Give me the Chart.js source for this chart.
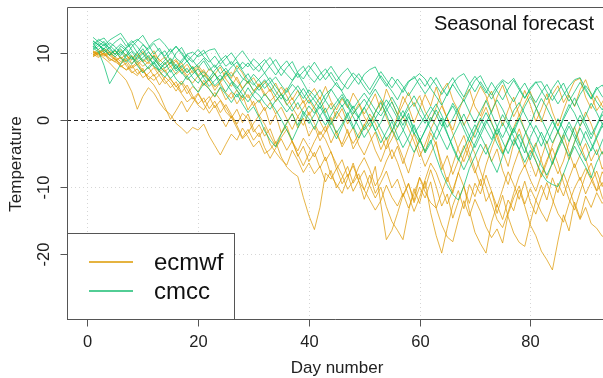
<!DOCTYPE html>
<html>
<head>
<meta charset="utf-8">
<script src="https://cdn.jsdelivr.net/npm/chart.js@4.4.1/dist/chart.umd.min.js"></script>
<style>
  html, body { margin: 0; padding: 0; background: #fff; overflow: hidden; }
  #wrap { width: 603px; height: 378px; position: relative; }
</style>
</head>
<body>
<div id="wrap"><canvas id="forecastChart"></canvas></div>
<script>
// day numbers on the x axis
const days = [1,2,3,4,5,6,7,8,9,10,11,12,13,14,15,16,17,18,19,20,
  21,22,23,24,25,26,27,28,29,30,31,32,33,34,35,36,37,38,39,40,
  41,42,43,44,45,46,47,48,49,50,51,52,53,54,55,56,57,58,59,60,
  61,62,63,64,65,66,67,68,69,70,71,72,73,74,75,76,77,78,79,80,
  81,82,83,84,85,86,87,88,89,90,91,92,93,94];
const xTicks = [0, 20, 40, 60, 80];
const yTicks = [-20, -10, 0, 10];
const seriesNames = ['ecmwf', 'cmcc'];

// ecmwf members
const ecmwf1 = [10.0,9.8,9.2,8.5,7.6,6.8,5.9,4.2,1.6,3.5,
  4.8,4.0,2.6,1.5,0.8,-0.5,-1.2,-2.0,-1.1,-1.5,
  -0.6,-2.4,-3.8,-5.2,-3.6,-2.1,-3.0,-1.2,-2.5,-4.0,
  -3.1,-5.0,-4.4,-3.2,-5.5,-7.0,-7.8,-8.4,-11.5,-14.2,
  -16.3,-13.0,-7.9,-8.8,-7.2,-9.5,-8.1,-10.6,-9.0,-11.8,
  -9.6,-6.9,-12.5,-17.8,-16.4,-13.9,-11.2,-9.4,-12.0,-8.5,
  -10.2,-7.4,-9.9,-12.8,-11.0,-14.6,-12.1,-9.8,-13.5,-16.7,
  -18.4,-19.8,-15.2,-12.6,-14.8,-11.9,-13.5,-10.4,-12.8,-15.6,
  -17.2,-19.5,-20.8,-22.3,-18.0,-14.1,-16.5,-12.2,-14.6,-11.3,
  -13.0,-10.8,-12.4,-11.5];
const ecmwf2 = [9.6,10.2,9.8,9.1,8.7,8.0,7.5,8.2,6.9,7.4,
  6.1,5.2,3.8,1.9,0.1,1.4,2.8,1.2,2.5,3.9,
  2.4,1.0,2.2,0.5,-1.0,0.6,-0.8,-2.6,-1.4,-3.0,
  -1.9,-4.1,-5.7,-4.2,-2.8,-4.5,-3.1,-5.4,-3.9,-6.2,
  -4.8,-7.1,-5.5,-8.3,-9.6,-10.9,-8.7,-6.4,-8.9,-7.5,
  -9.8,-11.6,-10.0,-12.9,-15.1,-16.4,-17.8,-13.6,-10.2,-12.4,
  -9.1,-13.8,-17.2,-19.8,-16.1,-12.7,-10.5,-13.2,-9.6,-11.4,
  -8.8,-12.1,-10.6,-13.9,-11.2,-14.4,-16.8,-18.2,-18.8,-15.3,
  -12.0,-9.7,-11.9,-8.6,-10.8,-7.9,-10.1,-12.7,-14.8,-13.0,
  -15.4,-16.1,-17.3,-17.0];
const ecmwf3 = [9.4,9.9,10.4,9.6,8.9,9.3,8.1,7.0,7.6,6.3,
  6.9,7.8,6.6,5.4,6.2,4.9,5.8,4.6,3.1,4.0,
  2.6,3.5,1.8,2.9,1.2,0.3,1.6,-0.4,0.9,-1.3,
  -2.5,-1.1,-3.6,-4.8,-5.9,-6.7,-4.5,-6.0,-7.8,-6.4,
  -8.0,-6.9,-9.2,-7.5,-10.1,-8.6,-6.9,-9.4,-8.0,-10.4,
  -11.9,-13.4,-12.0,-9.7,-11.5,-12.8,-10.9,-13.1,-11.0,-8.6,
  -10.7,-12.3,-13.1,-15.6,-17.4,-18.1,-14.9,-12.0,-14.3,-11.8,
  -13.6,-15.9,-17.5,-16.2,-18.3,-14.0,-11.6,-9.8,-12.5,-10.2,
  -11.9,-13.7,-15.1,-12.6,-9.4,-11.3,-8.7,-6.5,-9.0,-7.2,
  -8.9,-10.6,-9.3,-11.0];
const ecmwf4 = [9.9,10.5,9.6,10.1,9.0,8.4,8.9,7.7,8.3,7.1,
  7.9,6.5,7.3,5.9,4.8,5.7,4.1,5.2,3.6,2.4,
  3.3,1.7,2.8,1.1,2.3,0.8,-0.6,1.0,0.2,-1.8,
  -0.7,-2.4,-1.3,-3.5,-2.0,-0.9,-3.2,-4.6,-2.7,-4.1,
  -5.5,-3.8,-6.1,-4.7,-7.3,-5.9,-8.4,-6.8,-9.1,-10.4,
  -8.2,-10.9,-9.3,-7.6,-10.1,-8.8,-11.4,-9.5,-12.3,-10.0,
  -11.6,-9.2,-13.1,-10.8,-8.5,-10.9,-7.8,-9.9,-12.4,-9.4,
  -11.0,-8.2,-10.6,-12.9,-10.3,-7.7,-9.6,-11.8,-9.1,-12.2,
  -14.0,-11.5,-9.3,-11.8,-13.9,-15.2,-12.4,-10.1,-8.5,-11.0,
  -9.2,-7.6,-9.9,-8.1];
const ecmwf5 = [10.3,9.7,10.0,9.2,8.6,9.4,8.8,9.5,8.2,9.0,
  8.4,9.6,8.1,7.2,8.0,6.8,7.5,6.2,5.5,6.6,
  5.1,6.0,4.4,5.6,4.0,3.2,4.5,2.9,3.8,2.1,
  3.0,1.4,2.6,0.9,1.9,0.2,-1.4,0.5,-0.8,1.2,
  -0.5,-2.2,-0.9,-3.4,-1.6,-4.0,-2.5,-1.1,-3.7,-5.2,
  -3.3,-1.8,-4.4,-2.6,-5.8,-3.9,-6.5,-4.1,-2.0,-4.6,
  -6.9,-5.0,-3.2,-7.4,-5.3,-8.1,-6.0,-3.8,-5.7,-7.9,
  -5.5,-3.6,-6.2,-4.3,-7.5,-9.6,-6.8,-4.5,-7.0,-5.1,
  -3.4,-6.0,-8.7,-6.3,-4.0,-2.2,-4.8,-7.1,-5.2,-3.5,
  -6.1,-4.4,-7.3,-5.6];
const ecmwf6 = [9.7,10.1,10.6,10.2,9.8,10.4,9.6,8.9,9.9,8.6,
  9.3,10.3,8.7,9.4,7.9,8.8,7.4,8.3,7.0,7.8,
  6.4,7.6,6.9,5.7,7.3,6.2,8.1,7.0,5.4,6.3,
  4.9,5.8,4.2,5.5,3.7,4.8,3.0,4.4,2.5,3.6,
  4.7,3.1,5.0,2.8,1.5,3.2,1.8,4.0,2.6,0.9,
  2.2,3.9,1.4,4.6,2.7,0.8,3.5,1.9,-0.4,1.6,
  3.8,2.1,4.9,2.4,0.3,-1.5,1.2,3.3,4.6,2.0,
  0.6,2.9,4.3,1.8,-0.9,1.5,3.4,0.7,2.5,4.2,
  1.9,-0.3,2.2,3.8,5.1,2.6,4.0,5.8,6.2,3.4,
  1.7,3.6,2.1,0.8];
const ecmwf7 = [10.1,9.5,9.9,8.8,9.3,7.9,8.5,7.2,6.6,7.7,
  6.0,6.8,5.2,6.4,5.6,4.3,5.5,3.9,5.0,4.2,
  5.9,4.6,3.4,4.8,3.0,4.1,2.4,3.7,1.5,2.8,
  0.6,1.9,-0.7,0.8,-1.9,-0.4,1.0,-1.2,0.3,-2.4,
  -0.9,-3.1,-1.7,0.4,-2.2,-3.6,-1.4,-4.3,-2.8,-0.6,
  -2.1,-4.5,-6.2,-3.9,-1.5,-3.4,-5.6,-7.9,-5.0,-2.7,
  -4.8,-1.9,-3.7,-6.4,-9.2,-6.6,-4.1,-2.3,-4.9,-7.3,
  -9.8,-6.7,-4.2,-2.0,-4.6,-6.9,-3.5,-1.3,-3.9,-6.2,
  -8.4,-5.7,-3.1,-5.9,-8.0,-6.1,-3.3,-1.0,-3.6,-5.8,
  -8.3,-10.5,-7.7,-9.4];
const ecmwf8 = [9.8,9.3,10.0,9.7,10.3,9.1,9.8,8.4,9.2,10.2,
  8.9,9.7,9.0,8.2,9.1,7.6,8.5,7.1,8.0,6.7,
  7.5,5.9,6.8,7.9,6.1,5.0,6.4,4.7,5.8,4.3,
  5.2,3.6,4.6,2.7,3.9,2.2,3.3,1.6,2.9,0.7,
  2.0,3.4,1.1,2.5,0.2,1.7,-0.6,0.9,2.4,0.5,
  -1.0,1.2,2.9,0.4,-1.8,0.6,2.3,4.1,2.0,3.6,
  1.3,-0.2,1.9,4.3,5.5,3.0,1.4,-0.8,0.9,3.2,
  5.0,3.6,1.1,3.4,5.2,2.8,0.5,2.1,4.4,2.3,
  -0.2,1.6,3.9,1.2,-0.9,1.5,3.7,2.0,4.5,6.0,
  3.8,1.4,2.6,4.1];
const ecmwf9 = [10.2,9.9,9.5,9.8,9.0,8.2,7.4,7.9,8.6,7.3,
  6.5,5.9,6.7,7.5,6.0,5.1,3.9,2.7,3.4,2.2,
  1.5,2.9,4.1,3.0,1.8,0.4,-1.2,-2.8,-1.9,-0.5,
  0.7,-0.6,-2.3,-3.9,-2.6,-1.4,-3.3,-5.1,-6.8,-5.0,
  -3.2,-1.7,-2.9,-4.8,-6.6,-8.2,-10.3,-9.1,-7.0,-5.6,
  -7.4,-9.8,-8.3,-6.1,-4.4,-6.3,-8.7,-11.2,-13.6,-11.5,
  -8.9,-6.4,-7.8,-10.1,-12.5,-10.4,-7.9,-5.2,-3.1,-5.0,
  -7.6,-9.9,-12.3,-14.8,-16.0,-13.7,-10.9,-8.3,-6.7,-8.9,
  -10.6,-8.1,-5.9,-4.2,-6.5,-9.3,-11.8,-13.4,-10.7,-8.2,
  -6.4,-8.8,-11.5,-13.1];
const ecmwf10 = [9.5,9.9,10.3,10.0,9.4,8.7,9.1,9.6,8.8,8.0,
  8.6,7.9,7.2,7.8,8.5,9.0,7.7,6.6,7.3,8.1,
  7.0,5.8,4.9,5.6,6.5,7.1,5.9,4.6,3.3,4.2,
  5.4,4.0,2.8,3.7,4.9,3.6,1.9,0.5,1.8,3.0,
  1.6,-0.2,-1.8,-0.4,1.3,0.1,-1.9,-3.5,-2.1,-0.8,
  0.9,-0.5,-2.4,-4.3,-2.8,-1.0,0.6,-1.3,-3.2,-5.5,
  -3.6,-1.4,0.4,2.1,0.2,-2.0,-4.4,-6.2,-4.0,-1.8,
  0.1,1.9,-0.3,-2.6,-4.9,-3.0,-1.1,0.8,-1.5,-3.8,
  -6.0,-8.5,-6.3,-3.7,-1.6,-3.4,-5.9,-3.2,-0.9,1.2,
  -0.6,-2.9,-5.1,-3.0];

// cmcc members
const cmcc1 = [11.5,10.2,8.1,5.4,6.8,8.3,9.6,10.9,11.8,12.6,
  11.2,9.8,10.7,9.1,8.4,9.9,10.8,9.3,8.6,9.7,
  10.4,9.0,7.8,8.9,9.6,8.2,9.4,10.3,9.1,8.0,
  7.2,8.5,9.3,7.9,6.6,7.8,8.7,7.0,6.1,7.4,
  8.6,7.3,6.0,7.1,5.8,6.9,7.7,6.4,5.3,6.8,
  7.5,7.9,6.2,5.0,6.4,5.3,4.1,5.6,6.5,5.2,
  3.9,5.1,6.3,4.8,3.6,5.4,6.4,6.9,5.5,4.2,
  5.7,4.4,3.1,4.6,5.8,4.0,2.7,4.3,5.5,3.9,
  2.6,4.1,5.3,3.8,2.4,3.7,5.0,6.0,6.3,4.7,
  3.2,4.9,3.5,2.8];
const cmcc2 = [12.3,11.6,11.0,11.9,12.4,12.9,11.7,10.4,9.5,10.6,
  9.2,8.4,9.7,10.3,8.8,7.6,8.9,9.8,10.1,9.4,
  9.9,10.4,10.6,9.2,8.0,8.7,7.5,8.6,7.9,9.1,
  8.3,7.0,8.1,9.0,7.7,6.8,5.9,7.2,8.0,6.5,
  5.6,6.8,7.6,6.3,5.1,4.4,5.9,7.0,6.2,4.9,
  3.8,5.2,6.6,5.4,4.3,3.0,4.6,5.8,6.2,6.9,
  6.1,4.7,3.5,2.2,3.9,5.3,4.0,2.8,4.4,5.9,
  6.6,5.0,3.7,5.1,6.0,5.4,6.2,4.8,3.3,4.5,
  5.6,5.7,4.2,2.9,4.3,5.5,3.6,2.1,3.8,5.1,
  4.0,2.7,1.5,3.0];
const cmcc3 = [11.0,10.5,11.3,10.1,9.4,10.2,9.1,8.3,9.5,8.7,
  7.6,8.5,7.2,6.4,7.5,6.1,5.3,6.6,5.2,4.1,
  5.4,4.6,3.5,4.9,3.8,2.6,3.9,2.4,1.1,2.0,
  0.4,-1.6,-3.0,-4.0,-2.1,-0.5,0.9,-0.8,1.3,0.2,
  -1.4,0.6,1.8,-0.3,-1.9,-0.6,1.1,-0.9,-2.7,-1.2,
  0.3,-1.5,-3.4,-1.8,-0.2,-2.3,-4.1,-2.6,-0.7,-2.9,
  -4.6,-3.0,-5.5,-7.8,-9.6,-11.1,-11.9,-9.8,-7.2,-5.4,
  -3.6,-5.1,-3.3,-1.4,-3.2,-5.0,-2.9,-4.4,-6.3,-4.5,
  -6.1,-7.9,-9.1,-9.6,-9.9,-8.0,-5.8,-3.9,-5.5,-7.0,
  -8.6,-6.3,-4.7,-6.5];
const cmcc4 = [10.6,11.4,10.0,10.8,9.7,11.0,10.3,9.0,10.1,8.8,
  9.6,8.0,7.4,8.6,7.1,8.3,6.9,7.7,6.3,5.5,
  6.7,5.8,6.9,5.1,4.2,5.6,4.4,3.3,4.8,3.5,
  2.6,3.9,2.8,1.5,0.1,-1.5,-3.0,-1.2,0.7,2.1,
  1.0,2.5,0.8,-0.7,0.9,2.2,0.4,-1.3,0.6,1.9,
  0.2,-1.6,-0.4,1.4,2.7,0.9,-0.8,1.0,-1.9,-3.3,
  -1.5,0.4,-0.9,-2.7,-4.4,-2.5,-0.8,0.9,-1.0,-2.6,
  -0.6,1.1,-0.5,-2.2,-0.4,-2.0,-3.8,-2.1,-4.0,-5.9,
  -3.7,-1.8,-3.5,-1.6,0.2,-1.4,-3.2,-1.1,0.7,-1.0,
  -2.8,-0.9,0.8,-0.5];
const cmcc5 = [11.8,11.1,10.6,11.5,10.9,9.9,10.7,11.3,10.0,11.2,
  10.5,11.4,10.2,9.5,10.6,9.2,8.5,9.7,8.9,7.8,
  8.8,7.4,8.2,6.9,7.7,6.5,7.4,6.2,5.6,6.8,
  5.9,4.7,5.6,6.4,5.2,4.1,5.3,4.4,3.2,4.5,
  3.6,2.4,3.8,4.6,3.3,2.0,3.1,1.7,2.9,4.0,
  2.8,1.5,0.6,2.0,3.4,1.9,0.3,1.6,2.6,0.8,
  -0.5,1.1,2.4,0.7,-1.1,0.2,1.8,3.0,1.2,-0.4,
  1.3,2.9,1.0,-1.0,-2.6,-0.8,1.4,2.6,0.9,-0.7,
  1.5,3.2,1.8,0.1,-1.7,0.4,2.3,1.0,-0.9,0.6,
  2.5,1.1,-0.6,0.9];
const cmcc6 = [10.8,10.0,10.7,9.6,10.4,9.2,8.6,9.4,8.1,7.0,
  7.9,8.7,7.5,8.4,9.2,8.0,7.1,6.0,6.8,7.6,
  6.3,5.0,5.9,6.7,5.5,4.3,3.4,4.6,5.7,4.4,
  3.7,2.5,1.6,2.9,3.8,2.4,1.3,2.6,1.0,-0.5,
  0.8,2.0,0.5,-1.2,-2.8,-1.0,0.7,2.1,0.4,-1.5,
  -0.4,1.2,2.6,0.9,-1.3,-3.0,-1.6,0.5,-1.2,-2.8,
  -4.9,-3.4,-1.5,0.3,-1.9,-4.2,-6.0,-4.3,-2.4,-0.7,
  -2.3,-4.0,-6.1,-7.8,-5.4,-3.1,-1.2,-3.0,-4.9,-2.6,
  -0.8,-2.4,-4.5,-6.6,-4.2,-2.1,-0.3,-2.0,-3.8,-1.7,
  -3.5,-5.2,-3.1,-1.4];
const cmcc7 = [11.2,12.0,11.4,10.7,11.6,12.2,11.0,11.8,10.9,9.8,
  10.8,11.7,12.1,11.2,10.1,11.0,9.8,8.7,9.6,10.5,
  9.4,8.6,9.5,8.3,9.2,10.0,8.8,7.6,8.5,7.4,
  8.2,9.0,7.8,6.7,7.9,8.8,7.5,6.3,7.2,8.1,
  7.0,5.9,6.9,8.0,6.7,5.5,4.6,5.8,6.9,5.7,
  4.5,5.9,7.2,6.0,4.8,6.1,5.0,3.6,4.9,6.2,
  5.0,6.4,5.2,3.8,5.1,6.3,4.7,3.4,5.3,6.5,
  5.3,4.0,5.6,4.3,3.0,4.6,5.9,4.5,3.2,4.8,
  5.7,4.4,3.0,4.7,5.9,4.3,2.8,4.2,5.6,4.4,
  3.1,4.6,5.2,3.9];
const cmcc8 = [10.4,11.0,11.7,10.5,9.8,10.6,9.5,10.2,9.0,9.9,
  8.7,9.5,8.4,7.7,8.6,7.3,8.1,7.0,7.9,6.5,
  7.2,6.4,5.1,6.0,7.0,5.8,4.7,5.9,6.9,5.5,
  4.4,5.5,6.3,5.0,3.9,2.8,4.0,5.1,3.8,2.5,
  3.4,4.5,2.9,1.6,2.7,3.8,2.2,0.9,2.0,3.1,
  1.8,0.3,-1.3,-2.9,-1.6,-0.1,1.4,-0.3,-2.1,-0.8,
  0.6,2.0,0.8,-0.9,0.7,2.1,0.5,-1.4,-3.2,-1.5,
  0.3,-1.4,-2.9,-1.1,0.8,-0.7,-2.5,-4.4,-2.2,-0.5,
  -2.1,-3.9,-1.9,-0.2,-1.8,-3.6,-5.4,-3.3,-1.2,-2.9,
  -4.6,-2.7,-0.9,-2.4];
const cmcc9 = [10.9,11.8,12.2,11.1,10.3,9.6,10.8,11.5,12.0,11.3,
  10.2,9.0,8.1,8.9,10.0,10.9,10.1,8.8,7.6,8.3,
  9.2,8.0,6.7,5.9,6.8,7.9,8.6,7.3,6.0,5.2,
  6.1,7.0,5.7,4.3,3.1,4.4,5.8,6.9,5.5,4.0,
  2.9,1.7,3.0,4.5,5.6,4.2,2.8,1.4,0.3,1.8,
  3.3,4.6,3.2,1.7,0.2,-1.1,0.5,2.2,3.6,2.1,
  0.4,-1.3,-2.9,-1.2,0.7,2.5,1.1,-0.6,-2.4,-4.1,
  -2.3,-0.5,1.3,3.0,1.6,-0.2,-1.9,0.1,2.0,3.5,
  1.9,0.2,-1.6,-3.4,-1.8,0.1,1.7,3.3,1.5,-0.4,
  -2.2,-0.7,1.1,2.6];
const cmcc10 = [11.7,11.2,10.4,9.7,10.5,11.3,10.6,9.4,8.6,9.3,
  10.1,9.2,8.0,7.1,6.2,7.0,7.9,8.8,7.5,6.4,
  5.3,6.2,7.4,8.2,7.1,5.9,5.0,3.8,2.7,3.9,
  5.0,6.0,4.9,3.6,2.4,1.2,2.3,3.5,4.7,3.3,
  2.0,0.6,-0.8,0.7,2.1,3.4,2.0,0.5,-1.0,-2.6,
  -1.3,0.2,1.6,3.0,1.8,0.3,-1.4,-3.1,-4.8,-3.2,
  -1.6,-0.1,1.5,-0.2,-2.1,-3.9,-5.7,-7.4,-5.6,-3.5,
  -1.7,0.0,-1.6,-3.5,-5.1,-3.3,-1.4,0.3,-1.5,-3.2,
  -5.0,-6.8,-8.2,-6.4,-4.5,-2.7,-0.9,-2.6,-4.4,-6.1,
  -4.3,-2.4,-0.6,-2.2];

const ecmwfRuns = [ecmwf1, ecmwf2, ecmwf3, ecmwf4, ecmwf5, ecmwf6, ecmwf7, ecmwf8, ecmwf9, ecmwf10];
const cmccRuns = [cmcc1, cmcc2, cmcc3, cmcc4, cmcc5, cmcc6, cmcc7, cmcc8, cmcc9, cmcc10];

const lineColor = { ecmwf: 'rgba(222,152,0,0.72)', cmcc: 'rgba(0,188,108,0.72)' };
const keyColor = { ecmwf: '#DC9A00', cmcc: '#18BC72' };
const FONT = '"Liberation Sans", Arial, Helvetica, sans-serif';

function toPoints(run) {
  return days.map((d, i) => ({ x: d, y: run[i] }));
}

const datasets = [];
ecmwfRuns.forEach((run) => {
  datasets.push({ label: 'ecmwf', data: toPoints(run), borderColor: lineColor.ecmwf, borderWidth: 1, pointRadius: 0, tension: 0, order: 1 });
});
cmccRuns.forEach((run) => {
  datasets.push({ label: 'cmcc', data: toPoints(run), borderColor: lineColor.cmcc, borderWidth: 1, pointRadius: 0, tension: 0, order: 0 });
});

// draws the base-R style frame, ticks, labels and legend
const rStyle = {
  id: 'rStyle',
  beforeDatasetsDraw(chart) {
    const { ctx, chartArea: a, scales: { x, y } } = chart;
    ctx.save();
    ctx.strokeStyle = '#d6d6d6';
    ctx.lineWidth = 1;
    ctx.setLineDash([1, 3]);
    xTicks.forEach(t => {
      const px = Math.round(x.getPixelForValue(t)) + 0.5;
      ctx.beginPath(); ctx.moveTo(px, a.top); ctx.lineTo(px, a.bottom); ctx.stroke();
    });
    yTicks.forEach(t => {
      if (t === 0) return;
      const py = Math.round(y.getPixelForValue(t)) + 0.5;
      ctx.beginPath(); ctx.moveTo(a.left, py); ctx.lineTo(a.right, py); ctx.stroke();
    });
    ctx.restore();
  },
  afterDatasetsDraw(chart) {
    const { ctx, chartArea: a, scales: { x, y } } = chart;
    ctx.save();

    // zero line
    const y0 = Math.round(y.getPixelForValue(0)) + 0.5;
    ctx.strokeStyle = '#222';
    ctx.lineWidth = 1;
    ctx.setLineDash([4, 3]);
    ctx.beginPath(); ctx.moveTo(a.left, y0); ctx.lineTo(a.right, y0); ctx.stroke();
    ctx.setLineDash([]);

    // legend box
    const lx = a.left + 0.5, ly = 233.5, lw = 167, lh = a.bottom - 233;
    ctx.fillStyle = '#fff';
    ctx.fillRect(lx, ly, lw, lh);
    ctx.strokeStyle = '#555';
    ctx.strokeRect(lx, ly, lw, lh);
    ctx.font = '24px ' + FONT;
    ctx.textBaseline = 'middle';
    ctx.textAlign = 'left';
    seriesNames.forEach((name, i) => {
      const ky = 262 + i * 29;
      ctx.strokeStyle = keyColor[name];
      ctx.lineWidth = 1.5;
      ctx.beginPath(); ctx.moveTo(89, ky); ctx.lineTo(133, ky); ctx.stroke();
      ctx.fillStyle = '#111';
      ctx.fillText(name, 154, ky + 1);
    });

    // frame (right side lies outside the window)
    ctx.strokeStyle = '#555';
    ctx.lineWidth = 1;
    const L = a.left + 0.5, T = a.top + 0.5, B = a.bottom + 0.5;
    ctx.beginPath();
    ctx.moveTo(a.right + 5, T); ctx.lineTo(L, T); ctx.lineTo(L, B); ctx.lineTo(a.right + 5, B);
    ctx.stroke();

    // ticks and tick labels
    ctx.fillStyle = '#222';
    ctx.font = '16.5px ' + FONT;
    xTicks.forEach(t => {
      const px = Math.round(x.getPixelForValue(t)) + 0.5;
      ctx.beginPath(); ctx.moveTo(px, B); ctx.lineTo(px, B + 7); ctx.stroke();
      ctx.textAlign = 'center';
      ctx.fillText(String(t), px, 342);
    });
    yTicks.forEach(t => {
      const py = Math.round(y.getPixelForValue(t)) + 0.5;
      ctx.beginPath(); ctx.moveTo(L, py); ctx.lineTo(L - 7, py); ctx.stroke();
      ctx.save();
      ctx.translate(44, py);
      ctx.rotate(-Math.PI / 2);
      ctx.textAlign = 'center';
      ctx.fillText(String(t), 0, 0);
      ctx.restore();
    });

    // axis titles
    ctx.font = '17px ' + FONT;
    ctx.textAlign = 'center';
    ctx.fillText('Day number', 337, 368);
    ctx.save();
    ctx.translate(16, 164);
    ctx.rotate(-Math.PI / 2);
    ctx.fillText('Temperature', 0, 0);
    ctx.restore();

    // panel title
    ctx.font = '20px ' + FONT;
    ctx.textAlign = 'right';
    ctx.textBaseline = 'alphabetic';
    ctx.fillStyle = '#111';
    ctx.fillText('Seasonal forecast', 594, 30);

    ctx.restore();
  }
};

new Chart(document.getElementById('forecastChart'), {
  type: 'line',
  data: { datasets: datasets },
  options: {
    responsive: true,
    maintainAspectRatio: false,
    animation: false,
    devicePixelRatio: 1,
    layout: { padding: { left: 67, top: 7, right: 0, bottom: 59 } },
    plugins: { legend: { display: false }, tooltip: { enabled: false } },
    scales: {
      x: { type: 'linear', min: -3.7, max: 93.14, display: false },
      y: { type: 'linear', min: -29.6, max: 16.81, display: false }
    }
  },
  plugins: [rStyle]
});
</script>
</body>
</html>
